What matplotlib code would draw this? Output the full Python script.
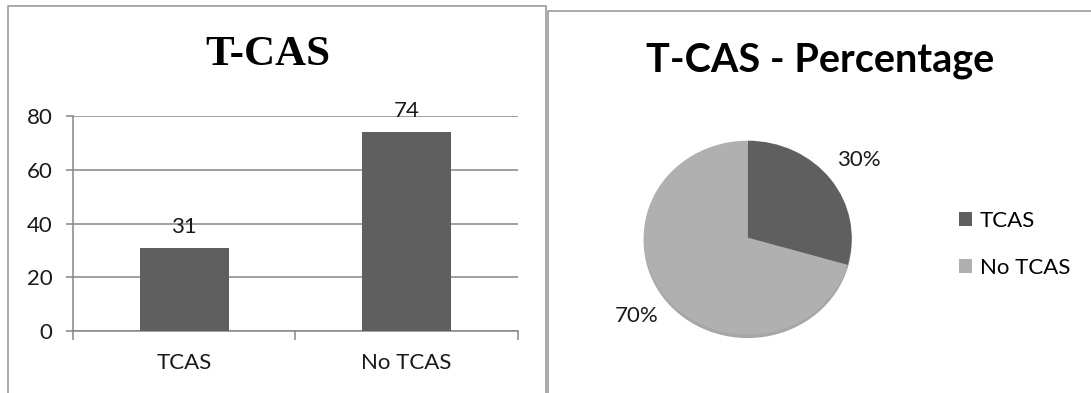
import matplotlib.pyplot as plt
from matplotlib.lines import Line2D

# data
categories = ['TCAS', 'No TCAS']
counts = [31, 74]
y_ticks = [0, 20, 40, 60, 80]

dark = '#5f5f5f'
light = '#b0b0b0'
axis_gray = '#868686'
frame_gray = '#a3a3a3'
text_col = '#1a1a1a'

W, H = 1091, 393
fig = plt.figure(figsize=(W / 100, H / 100), dpi=100)
plt.rcParams['font.family'] = ['Lato', 'DejaVu Sans']


def px(x0, y0, x1, y1):
    # pixel box (top-left origin) -> figure fraction rect
    return [x0 / W, 1 - y1 / H, (x1 - x0) / W, (y1 - y0) / H]


# chart frames
def fig_line(xs, ys):
    fig.add_artist(Line2D([x / W for x in xs], [1 - y / H for y in ys],
                          color=frame_gray, lw=1.3, transform=fig.transFigure))


fig_line([8, 8, 546, 546], [H + 5, 6, 6, H + 5])
fig_line([548, 548, W + 5], [H + 5, 11, 11])

# ---- bar chart ----
ax = fig.add_axes(px(73.3, 116, 517.5, 331))
x = range(len(categories))
bars = ax.bar(x, counts, width=0.4, color=dark, zorder=3)
ax.bar_label(bars, padding=8, fontsize=16, color=text_col)
ax.set_xlim(-0.5, 1.5)
ax.set_ylim(0, 80)
ax.set_yticks(y_ticks)
ax.grid(axis='y', color=axis_gray, lw=1.1, zorder=0)
for s in ['top', 'right']:
    ax.spines[s].set_visible(False)
for s in ['left', 'bottom']:
    ax.spines[s].set_color(axis_gray)
    ax.spines[s].set_linewidth(1.1)
ax.set_xticks(list(x))
ax.set_xticklabels(categories)
ax.set_xticks([-0.5, 0.5, 1.5], minor=True)
ax.tick_params(axis='x', which='major', length=0, pad=16, labelsize=16, colors=text_col)
ax.tick_params(axis='x', which='minor', length=6.5, width=1.1, color=axis_gray)
ax.tick_params(axis='y', length=4.8, width=1.1, color=axis_gray, pad=10,
               labelsize=16, labelcolor=text_col)
fig.text(268 / W, 1 - 65 / H, 'T-CAS', ha='center', va='baseline',
         fontsize=31, fontweight='bold', family='Liberation Serif')

# ---- pie chart ----
pax = fig.add_axes(px(747.7 - 1.6 * 104, 237.7 - 1.4 * 97,
                      747.7 + 1.6 * 104, 237.7 + 1.4 * 97))
wedges, _, pct_texts = pax.pie(
    counts, colors=[dark, light], startangle=90, counterclock=False,
    autopct='%.0f%%', pctdistance=1.34, textprops={'fontsize': 16, 'color': text_col},
    shadow={'ox': 0.0, 'oy': -0.025, 'shade': 0.55},
    wedgeprops={'linewidth': 0})
pax.set_aspect('auto')
pax.set_xlim(-1.6, 1.6)
pax.set_ylim(-1.4, 1.4)
pax.axis('off')

pax.legend(wedges, categories, loc='upper left', bbox_to_anchor=(959 / W, 1 - 211 / H),
           bbox_transform=fig.transFigure, frameon=False, fontsize=16,
           handlelength=0.6, handleheight=0.6, handletextpad=0.35,
           labelspacing=1.2, borderpad=0, borderaxespad=0)
fig.text(820 / W, 1 - 71.7 / H, 'T-CAS - Percentage', ha='center', va='baseline',
         fontsize=28.5, fontweight='bold')

fig.savefig('out.png', dpi=100)
